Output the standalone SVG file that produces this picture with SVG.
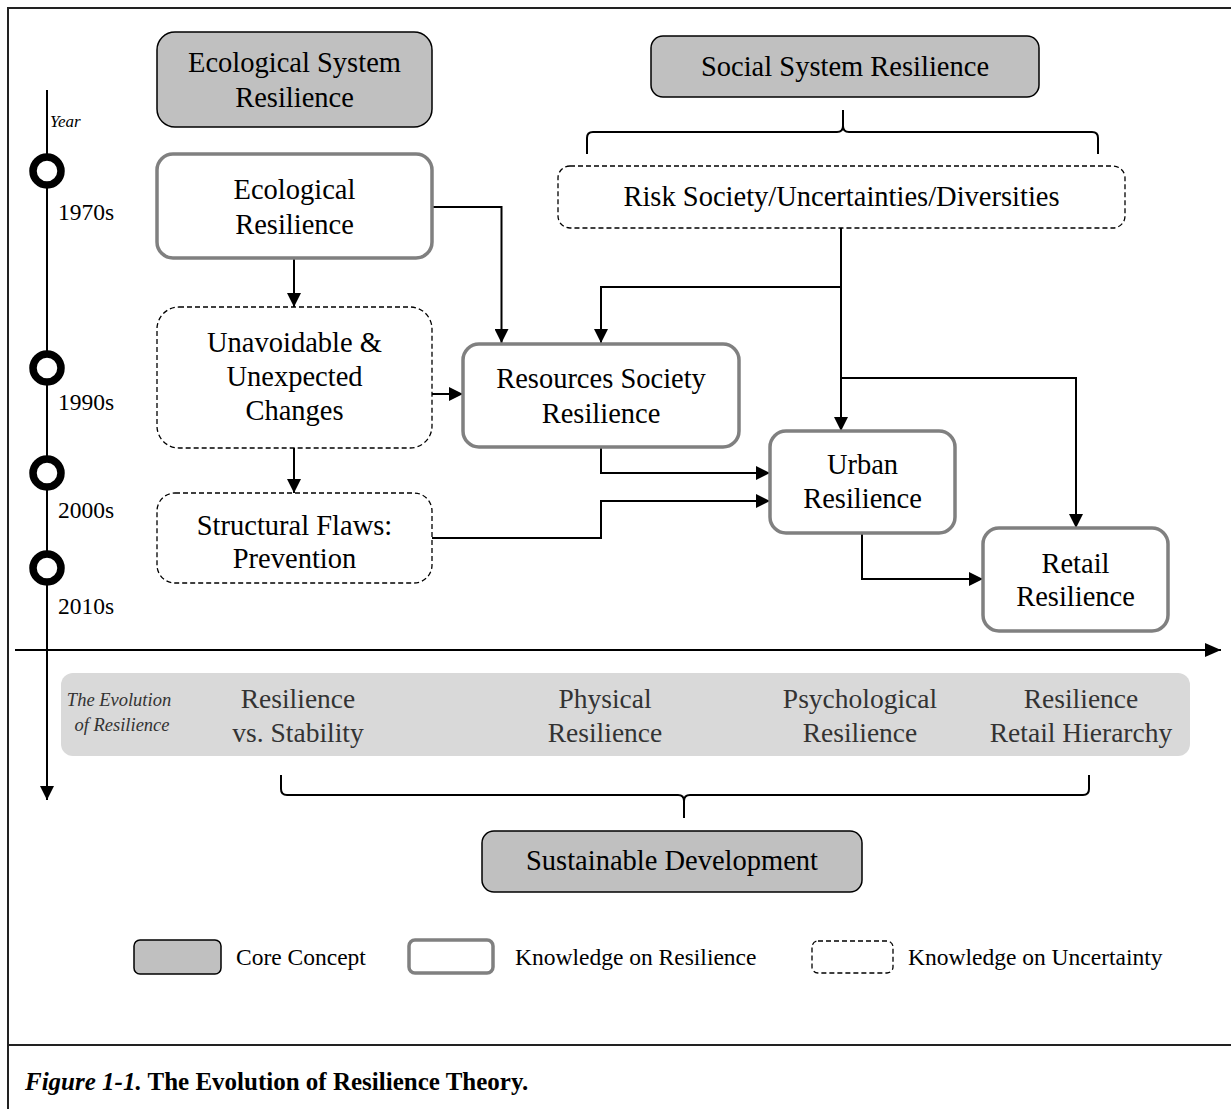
<svg xmlns="http://www.w3.org/2000/svg" width="1231" height="1109" viewBox="0 0 1231 1109">
<style>
text{font-family:"Liberation Serif","Times New Roman",serif;fill:#000}
.t{font-size:28.5px;text-anchor:middle}
.band{font-size:27.5px;text-anchor:middle;fill:#333}
.yr{font-size:23.5px}
.lg{font-size:23.5px}
.it{font-style:italic}
.core{fill:#c0c0c0;stroke:#000;stroke-width:1.5}
.know{fill:#fff;stroke:#808080;stroke-width:3.5}
.unc{fill:#fff;stroke:#000;stroke-width:1.3;stroke-dasharray:5 3}
.ln{fill:none;stroke:#000;stroke-width:2}
</style>
<defs>
<marker id="ah" markerWidth="14" markerHeight="14" refX="14" refY="7" orient="auto" markerUnits="userSpaceOnUse"><path d="M0,0 L14,7 L0,14 z" fill="#000"/></marker>
<marker id="ah2" markerWidth="16" markerHeight="16" refX="16" refY="8" orient="auto" markerUnits="userSpaceOnUse"><path d="M0,1 L16,8 L0,15 z" fill="#000"/></marker>
</defs>
<rect width="1231" height="1109" fill="#fff"/>
<g id="frame" fill="none" stroke="#222" stroke-width="2">
<path d="M8,1109 V8 H1231"/>
<path d="M8,1045 H1231"/>
</g>
<g id="timeline">
<path class="ln" d="M47,90 V800" marker-end="url(#ah)"/>
<path class="ln" d="M15,650 H1221" marker-end="url(#ah2)"/>
<text x="50" y="127" class="it" style="font-size:17px">Year</text>
<g fill="#fff" stroke="#000" stroke-width="7.5">
<circle cx="47" cy="171" r="14"/>
<circle cx="47" cy="368" r="14"/>
<circle cx="47" cy="473" r="14"/>
<circle cx="47" cy="568" r="14"/>
</g>
<text x="58" y="220" class="yr">1970s</text>
<text x="58" y="410" class="yr">1990s</text>
<text x="58" y="518" class="yr">2000s</text>
<text x="58" y="614" class="yr">2010s</text>
</g>
<g id="connectors">
<path class="ln" d="M294,258 V307" marker-end="url(#ah)"/>
<path class="ln" d="M294,448 V493" marker-end="url(#ah)"/>
<path class="ln" d="M432,207 H501.5 V343" marker-end="url(#ah)"/>
<path class="ln" d="M432,394 H463" marker-end="url(#ah)"/>
<path class="ln" d="M841,228 V287 H601 V343" marker-end="url(#ah)"/>
<path class="ln" d="M841,287 V431" marker-end="url(#ah)"/>
<path class="ln" d="M841,378 H1076 V528" marker-end="url(#ah)"/>
<path class="ln" d="M601,447 V473 H770" marker-end="url(#ah)"/>
<path class="ln" d="M432,538 H601 V501 H770" marker-end="url(#ah)"/>
<path class="ln" d="M862,533 V579 H983" marker-end="url(#ah)"/>
<path class="ln" d="M587,154 V138 Q587,132 593,132 H837 Q843,132 843,126 V110 M843,126 Q843,132 849,132 H1092 Q1098,132 1098,138 V154" stroke-width="1.8"/>
<path class="ln" d="M281,775 V789 Q281,795 287,795 H678 Q684,795 684,801 V818 M684,801 Q684,795 690,795 H1083 Q1089,795 1089,789 V775" stroke-width="1.8"/>
</g>
<g id="eco-system">
<rect class="core" x="157" y="32" width="275" height="95" rx="18"/>
<text class="t" x="294.5" y="72">Ecological System</text>
<text class="t" x="294.5" y="107">Resilience</text>
</g>
<g id="social-system">
<rect class="core" x="651" y="36" width="388" height="61" rx="12"/>
<text class="t" x="845" y="76">Social System Resilience</text>
</g>
<g id="eco-resilience">
<rect class="know" x="157" y="154" width="275" height="104" rx="16"/>
<text class="t" x="294.5" y="199">Ecological</text>
<text class="t" x="294.5" y="234">Resilience</text>
</g>
<g id="risk">
<rect class="unc" x="558" y="166" width="567" height="62" rx="12"/>
<text class="t" x="841.5" y="206">Risk Society/Uncertainties/Diversities</text>
</g>
<g id="unavoidable">
<rect class="unc" x="157" y="307" width="275" height="141" rx="22"/>
<text class="t" x="294.5" y="352">Unavoidable &amp;</text>
<text class="t" x="294.5" y="386">Unexpected</text>
<text class="t" x="294.5" y="420">Changes</text>
</g>
<g id="structural">
<rect class="unc" x="157" y="493" width="275" height="90" rx="18"/>
<text class="t" x="294.5" y="535">Structural Flaws:</text>
<text class="t" x="294.5" y="568">Prevention</text>
</g>
<g id="resources">
<rect class="know" x="463" y="344" width="276" height="103" rx="16"/>
<text class="t" x="601" y="388">Resources Society</text>
<text class="t" x="601" y="423">Resilience</text>
</g>
<g id="urban">
<rect class="know" x="770" y="431" width="185" height="102" rx="16"/>
<text class="t" x="862.5" y="474">Urban</text>
<text class="t" x="862.5" y="508">Resilience</text>
</g>
<g id="retail">
<rect class="know" x="983" y="528" width="185" height="103" rx="16"/>
<text class="t" x="1075.5" y="573">Retail</text>
<text class="t" x="1075.5" y="606">Resilience</text>
</g>
<g id="evolution-band">
<rect x="61" y="673" width="1129" height="83" rx="12" fill="#d9d9d9"/>
<text x="119" y="706" class="it" style="font-size:18.5px;text-anchor:middle;fill:#333">The Evolution</text>
<text x="122" y="731" class="it" style="font-size:18.5px;text-anchor:middle;fill:#333">of Resilience</text>
<text class="band" x="298" y="708">Resilience</text>
<text class="band" x="298" y="742">vs. Stability</text>
<text class="band" x="605" y="708">Physical</text>
<text class="band" x="605" y="742">Resilience</text>
<text class="band" x="860" y="708">Psychological</text>
<text class="band" x="860" y="742">Resilience</text>
<text class="band" x="1081" y="708">Resilience</text>
<text class="band" x="1081" y="742">Retail Hierarchy</text>
</g>
<g id="sustainable">
<rect class="core" x="482" y="831" width="380" height="61" rx="12"/>
<text class="t" x="672" y="870">Sustainable Development</text>
</g>
<g id="legend">
<rect class="core" x="134" y="940" width="87" height="34" rx="6"/>
<text class="lg" x="236" y="965">Core Concept</text>
<rect class="know" x="409" y="940" width="84" height="33" rx="6"/>
<text class="lg" x="515" y="965">Knowledge on Resilience</text>
<rect class="unc" x="812" y="941" width="81" height="32" rx="6"/>
<text class="lg" x="908" y="965">Knowledge on Uncertainty</text>
</g>
<g id="caption">
<text x="25" y="1090" style="font-size:25px;font-weight:bold"><tspan font-style="italic">Figure 1-1.</tspan> The Evolution of Resilience Theory.</text>
</g>
</svg>
